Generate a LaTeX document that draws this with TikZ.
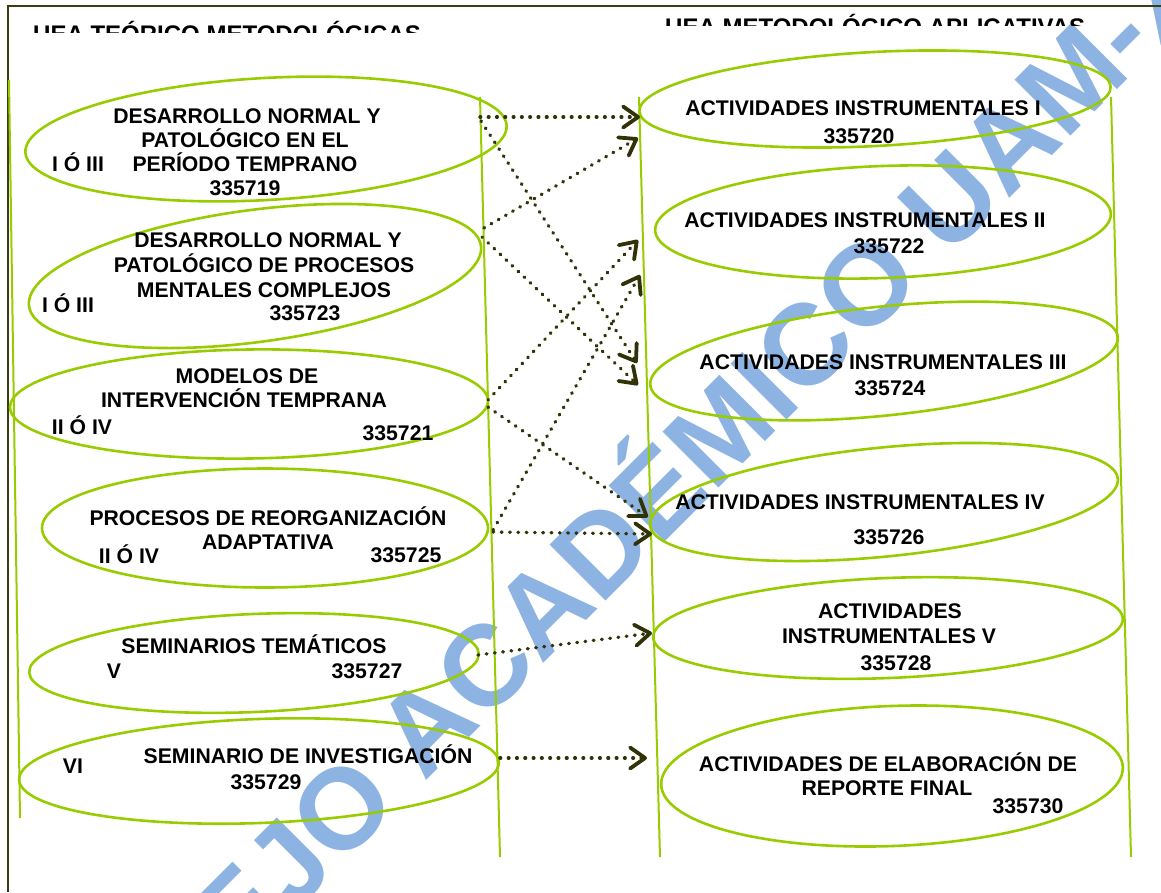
\documentclass[tikz,border=0pt]{standalone}
\usepackage{fontspec}
\setmainfont{Liberation Sans}
\usetikzlibrary{shapes.geometric,arrows.meta}
\definecolor{lgreen}{RGB}{153,204,0}
\definecolor{arrowc}{RGB}{50,50,8}
\definecolor{wmblue}{RGB}{141,179,226}
\definecolor{framec}{RGB}{60,60,20}
\begin{document}
\begin{tikzpicture}[x=1pt,y=-1pt,
  cyl/.style={draw=lgreen, line width=2pt},
  oval/.style={draw=lgreen, line width=2.6pt, ellipse, inner sep=0pt},
  lbl/.style={anchor=base, font=\fontsize{21.2}{24}\selectfont\bfseries, inner sep=0pt, text=black},
  ttl/.style={anchor=base west, font=\fontsize{24}{28}\selectfont\bfseries, inner sep=0pt},
  conn/.style={draw=arrowc, line width=3.4pt, line cap=round, dash pattern=on 0.7pt off 7.6pt,
    -{Straight Barb[length=15pt,width=21pt,line width=3.8pt,round]}},
  frame/.style={draw=framec, line width=2pt},
]
\useasboundingbox (0,0) rectangle (1161,892);

% watermark
\begin{scope}
\clip (0,0) rectangle (1161,892);
\node[anchor=base west, rotate=45, inner sep=0pt, text=wmblue,
  font=\fontsize{115}{120}\selectfont\bfseries] (wm) at (4,1203) {CONSEJO ACADÉMICO UAM-X};
\end{scope}

% frame
\draw[frame] (1161,5.5) -- (7.5,5.5) -- (7.5,892);

% titles (clipped)
\begin{scope}
\clip (0,0) rectangle (600,32);
\node[ttl] (title1) at (33,42.2) {UEA TEÓRICO METODOLÓGICAS};
\end{scope}
\begin{scope}
\clip (600,0) rectangle (1161,25.5);
\node[ttl] (title2) at (665,35.5) {UEA METODOLÓGICO APLICATIVAS};
\end{scope}

% cylinders
\draw[cyl] (9,80) -- (20,818);
\draw[cyl] (480,97) -- (500,857);
\draw[cyl] (639,97) -- (660,857);
\draw[cyl] (1111,97) -- (1131,857);

% left ellipses
\node[oval, minimum width=482pt, minimum height=122pt, rotate=3.2] (e1) at (266,139) {};
\node[oval, minimum width=456pt, minimum height=132pt, rotate=7.6] (e2) at (255,276) {};
\node[oval, minimum width=478pt, minimum height=109pt, rotate=0.8] (e3) at (249,404) {};
\node[oval, minimum width=446pt, minimum height=119pt] (e4) at (265,528) {};
\node[oval, minimum width=450pt, minimum height=98pt, rotate=2.4] (e5) at (254,663) {};
\node[oval, minimum width=480pt, minimum height=104pt, rotate=2.1] (e6) at (259,771) {};

% right ellipses
\node[oval, minimum width=472pt, minimum height=94pt, rotate=3.0] (r1) at (875,99) {};
\node[oval, minimum width=456pt, minimum height=112pt, rotate=2.1] (r2) at (883,222) {};
\node[oval, minimum width=470pt, minimum height=109pt, rotate=5.9] (r3) at (884,361) {};
\node[oval, minimum width=470pt, minimum height=109pt, rotate=5.7] (r4) at (884,502) {};
\node[oval, minimum width=470pt, minimum height=100pt, rotate=2.3] (r5) at (888,628) {};
\node[oval, minimum width=462pt, minimum height=140pt, rotate=2.2] (r6) at (892,776) {};

% left texts
\node[lbl] (e1a) at (247,123) {DESARROLLO NORMAL Y};
\node[lbl] (e1b) at (245,147) {PATOLÓGICO EN EL};
\node[lbl] (e1c) at (78,171) {I Ó III};
\node[lbl] (e1d) at (245,171) {PERÍODO TEMPRANO};
\node[lbl] (e1e) at (245,195) {335719};

\node[lbl] (e2a) at (268,247) {DESARROLLO NORMAL Y};
\node[lbl] (e2b) at (264,272) {PATOLÓGICO DE PROCESOS};
\node[lbl] (e2c) at (264,297) {MENTALES COMPLEJOS};
\node[lbl] (e2d) at (68,312) {I Ó III};
\node[lbl] (e2e) at (305,320) {335723};

\node[lbl] (e3a) at (247,383) {MODELOS DE};
\node[lbl] (e3b) at (244,407) {INTERVENCIÓN TEMPRANA};
\node[lbl] (e3c) at (82,434) {II Ó IV};
\node[lbl] (e3d) at (398,440) {335721};

\node[lbl] (e4a) at (268,525) {PROCESOS DE REORGANIZACIÓN};
\node[lbl] (e4b) at (268,549) {ADAPTATIVA};
\node[lbl] (e4c) at (129,563) {II Ó IV};
\node[lbl] (e4d) at (406,562) {335725};

\node[lbl] (e5a) at (254,653) {SEMINARIOS TEMÁTICOS};
\node[lbl] (e5b) at (114,678) {V};
\node[lbl] (e5c) at (367,678) {335727};

\node[lbl] (e6a) at (73,773) {VI};
\node[lbl] (e6b) at (308,763) {SEMINARIO DE INVESTIGACIÓN};
\node[lbl] (e6c) at (266,789) {335729};

% right texts
\node[lbl] (r1a) at (863,115) {ACTIVIDADES INSTRUMENTALES I};
\node[lbl] (r1b) at (859,143) {335720};
\node[lbl] (r2a) at (865,227) {ACTIVIDADES INSTRUMENTALES II};
\node[lbl] (r2b) at (889,253) {335722};
\node[lbl] (r3a) at (883,369) {ACTIVIDADES INSTRUMENTALES III};
\node[lbl] (r3b) at (890,395) {335724};
\node[lbl] (r4a) at (860,509) {ACTIVIDADES INSTRUMENTALES IV};
\node[lbl] (r4b) at (889,544) {335726};
\node[lbl] (r5a) at (890,618) {ACTIVIDADES};
\node[lbl] (r5b) at (889,643) {INSTRUMENTALES V};
\node[lbl] (r5c) at (896,670) {335728};
\node[lbl] (r6a) at (888,771) {ACTIVIDADES DE ELABORACIÓN DE};
\node[lbl] (r6b) at (887,795) {REPORTE FINAL};
\node[lbl] (r6c) at (1028,813) {335730};

% connector end points
\coordinate (s1) at (480,117);  \coordinate (t1) at (640,117);
\coordinate (s2) at (481,121);  \coordinate (t2) at (637,363);
\coordinate (s3) at (484,228);  \coordinate (t3) at (638,138);
\coordinate (s4) at (482,237);  \coordinate (t4) at (638,385);
\coordinate (s5) at (488,400);  \coordinate (t5) at (638,240);
\coordinate (s6) at (488,407);  \coordinate (t6) at (648,517);
\coordinate (s7) at (493,530);  \coordinate (t7) at (640,275);
\coordinate (s8) at (493,532);  \coordinate (t8) at (652,534);
\coordinate (s9) at (478,655);  \coordinate (t9) at (652,633);
\coordinate (s10) at (500,758); \coordinate (t10) at (647,758);

\draw[conn] (s1) -- (t1);
\draw[conn] (s2) -- (t2);
\draw[conn] (s3) -- (t3);
\draw[conn] (s4) -- (t4);
\draw[conn] (s5) -- (t5);
\draw[conn] (s6) -- (t6);
\draw[conn] (s7) -- (t7);
\draw[conn] (s8) -- (t8);
\draw[conn] (s9) -- (t9);
\draw[conn] (s10) -- (t10);
\end{tikzpicture}
\end{document}
